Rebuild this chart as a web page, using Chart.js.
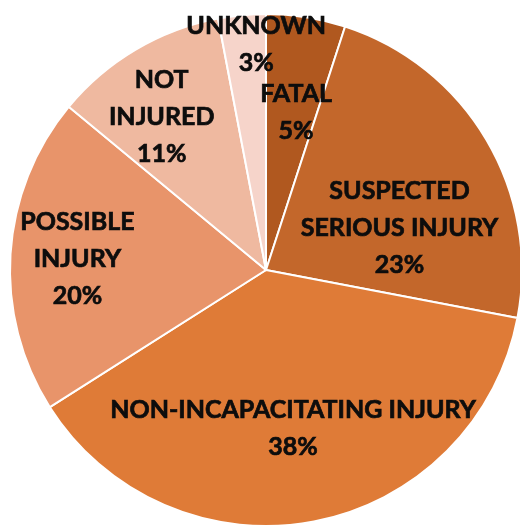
<!DOCTYPE html>
<html>
<head>
<meta charset="utf-8">
<script src="https://cdn.jsdelivr.net/npm/chart.js@4.4.1/dist/chart.umd.min.js"></script>
<style>
  html, body { margin: 0; padding: 0; background: #fff; overflow: hidden; }
  canvas { display: block; }
</style>
</head>
<body>
<canvas id="injuryPie" width="535" height="540"></canvas>
<script>
// Severity categories, clockwise from 12 o'clock
const categories = [
  ['FATAL'],
  ['SUSPECTED', 'SERIOUS INJURY'],
  ['NON-INCAPACITATING INJURY'],
  ['POSSIBLE', 'INJURY'],
  ['NOT', 'INJURED'],
  ['UNKNOWN']
];
const shares = [5, 23, 38, 20, 11, 3];

const sliceColors = ['#B0581F', '#C3672B', '#DF7B37', '#E8946A', '#EFB9A0', '#F6D4CA'];

// where each label sits: shift from slice mid angle (deg), fraction of radius
const labelPlace = [
  [1.8, 0.627],
  [13.1, 0.547],
  [1.1, 0.627],
  [-0.3, 0.738],
  [-3.6, 0.725],
  [2.9, 0.882]
];

const sliceLabels = {
  id: 'sliceLabels',
  afterDatasetsDraw(chart) {
    const c = chart.ctx;
    const meta = chart.getDatasetMeta(0);
    const total = shares.reduce((a, b) => a + b, 0);
    c.save();
    c.font = 'bold 25px Lato';
    c.fillStyle = '#0d0d0d';
    c.strokeStyle = '#0d0d0d';
    c.lineWidth = 0.7;
    c.textAlign = 'center';
    c.textBaseline = 'middle';
    meta.data.forEach((arc, i) => {
      const mid = (arc.startAngle + arc.endAngle) / 2 + labelPlace[i][0] * Math.PI / 180;
      const r = arc.outerRadius * labelPlace[i][1];
      const x = arc.x + Math.cos(mid) * r;
      const y = arc.y + Math.sin(mid) * r;
      const lines = categories[i].concat([Math.round(shares[i] / total * 100) + '%']);
      const lh = 37;
      lines.forEach((t, k) => {
        const ty = y + (k - (lines.length - 1) / 2) * lh;
        c.fillText(t, x, ty);
        c.strokeText(t, x, ty);
      });
    });
    c.restore();
  }
};

new Chart(document.getElementById('injuryPie'), {
  type: 'pie',
  data: {
    labels: categories.map(l => l.join(' ')),
    datasets: [{
      data: shares,
      backgroundColor: sliceColors,
      borderColor: '#fff',
      borderWidth: 2
    }]
  },
  options: {
    responsive: false,
    animation: false,
    layout: { padding: { left: 9, top: 13, right: 12, bottom: 13 } },
    plugins: { legend: { display: false }, tooltip: { enabled: false } }
  },
  plugins: [sliceLabels]
});
</script>
</body>
</html>
